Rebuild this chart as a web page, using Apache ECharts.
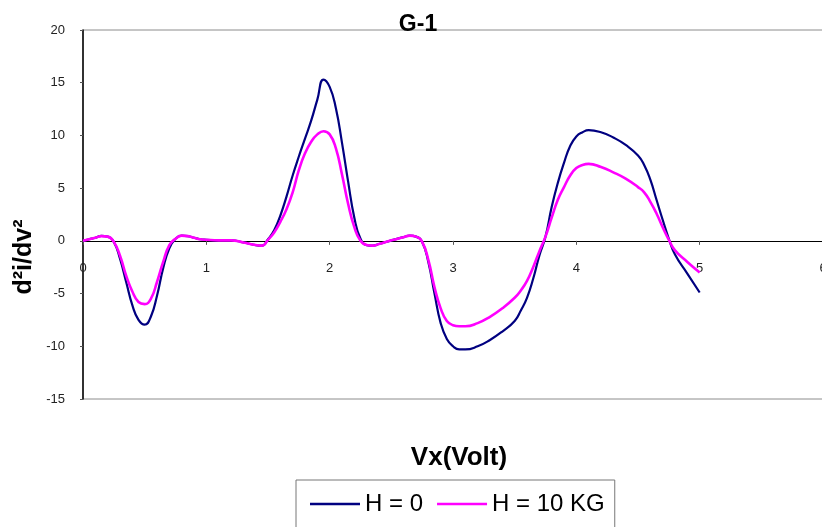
<!DOCTYPE html>
<html>
<head>
<meta charset="utf-8">
<script src="https://cdn.jsdelivr.net/npm/echarts@6/dist/echarts.min.js"></script>
<style>
  html, body { margin: 0; padding: 0; background: #fff; }
  #chart { width: 822px; height: 527px; }
</style>
</head>
<body>
<div id="chart"></div>
<script>
// values (Vx in volt, d2i/dv2)
let vx = [0, 0.05, 0.1, 0.15, 0.2, 0.25, 0.3, 0.35, 0.4, 0.45, 0.5, 0.55, 0.6, 0.65, 0.7, 0.75, 0.8, 0.85, 0.9, 0.95,
    1.0, 1.1, 1.2, 1.3, 1.4, 1.45, 1.5, 1.55, 1.6, 1.65, 1.7, 1.75, 1.8, 1.85, 1.9, 1.95,
    2.0, 2.05, 2.1, 2.15, 2.2, 2.25, 2.3, 2.35, 2.4, 2.5, 2.6, 2.65, 2.7, 2.75, 2.8, 2.85, 2.9, 2.95,
    3.0, 3.05, 3.1, 3.2, 3.3, 3.4, 3.5, 3.55, 3.6, 3.65, 3.7, 3.75, 3.8, 3.85, 3.9, 3.95,
    4.0, 4.05, 4.1, 4.2, 4.3, 4.4, 4.5, 4.55, 4.6, 4.65, 4.7, 4.75, 4.8, 4.9, 5.0];
let h0 = [0, 0.15, 0.3, 0.48, 0.4, -0.1, -1.7, -3.9, -6.1, -7.5, -7.95, -7.2, -5.2, -2.6, -0.7, 0.2, 0.5, 0.45, 0.3, 0.15,
    0.1, 0.05, 0.05, -0.15, -0.4, -0.45, 0.15, 1.0, 2.4, 4.2, 6.2, 8.0, 9.7, 11.4, 13.4, 15.3,
    14.6, 12.6, 9.3, 5.6, 2.2, 0.2, -0.4, -0.45, -0.3, 0.05, 0.35, 0.5, 0.4, -0.1, -2.0, -5.0, -7.8, -9.3,
    -10.0, -10.3, -10.3, -10.0, -9.4, -8.6, -7.6, -6.6, -5.4, -3.6, -1.4, 0.4, 3.2, 5.5, 7.4, 9.0,
    9.9, 10.3, 10.5, 10.3, 9.8, 9.1, 8.1, 7.2, 5.8, 3.9, 2.0, 0.2, -1.3, -3.1, -4.9];
let h10 = [0, 0.15, 0.3, 0.45, 0.4, -0.1, -1.4, -3.3, -4.8, -5.8, -6.0, -5.5, -3.9, -2.0, -0.4, 0.2, 0.5, 0.45, 0.3, 0.15,
    0.1, 0.05, 0.05, -0.15, -0.4, -0.45, 0.1, 0.8, 1.8, 3.0, 4.6, 6.7, 8.3, 9.4, 10.1, 10.4,
    10.1, 8.8, 6.3, 3.5, 1.3, 0.0, -0.4, -0.45, -0.3, 0.05, 0.35, 0.5, 0.4, -0.1, -1.8, -4.4, -6.4, -7.6,
    -8.0, -8.1, -8.1, -7.8, -7.2, -6.4, -5.4, -4.7, -3.8, -2.5, -1.0, 0.4, 2.2, 3.9, 5.1, 6.2,
    6.9, 7.2, 7.3, 7.0, 6.5, 5.9, 5.1, 4.6, 3.7, 2.6, 1.3, 0.1, -0.9, -2.0, -3.0];
let seriesNames = ['H = 0', 'H = 10 KG'];

var dom = document.getElementById("chart");
var myChart = echarts.init(dom);

function pairs(xs, ys) {
    return xs.map((x, i) => [x, ys[i]]);
}

var option = {
    animation: false,
    title: {
        text: 'G-1',
        left: 413,
        top: 8,
        textAlign: 'center',
        textStyle: { fontFamily: 'Arial', fontSize: 23, fontWeight: 'bold', color: '#000' }
    },
    grid: {
        left: 83,
        top: 30,
        width: 740,
        height: 369,
        outerBoundsMode: 'none',
        containLabel: false,
        show: true,
        borderColor: '#8c8c8c',
        borderWidth: 1
    },
    legend: {
        left: 296,
        top: 480,
        padding: [12, 10, 30, 14],
        borderColor: '#777',
        borderWidth: 1,
        borderRadius: 0,
        itemWidth: 50,
        itemHeight: 2.5,
        itemGap: 14,
        icon: 'rect',
        textStyle: { fontFamily: 'Arial', fontSize: 24, color: '#000' },
        data: seriesNames
    },
    // y axis title, drawn as text so it can sit a bit below the middle like the original
    graphic: [{
        type: 'text',
        x: 24,
        y: 257,
        rotation: Math.PI / 2,
        style: {
            text: 'd²i/dv²',
            fontFamily: 'Arial',
            fontSize: 25,
            fontWeight: 'bold',
            fill: '#000',
            align: 'center',
            verticalAlign: 'middle'
        }
    }],
    xAxis: {
        type: 'value',
        min: 0,
        max: 6,
        interval: 1,
        name: 'Vx(Volt)',
        nameLocation: 'middle',
        nameGap: 46,
        nameTextStyle: { fontFamily: 'Arial', fontSize: 26, fontWeight: 'bold', color: '#000', padding: [0, 0, 0, 12] },
        axisLine: { onZero: true, lineStyle: { color: '#000', width: 1 } },
        axisTick: { show: true, length: 4, lineStyle: { color: '#555' } },
        axisLabel: { margin: -137, fontFamily: 'Arial', fontSize: 13, color: '#222' },
        splitLine: { show: false }
    },
    yAxis: {
        type: 'value',
        min: -15,
        max: 20,
        interval: 5,
        axisLine: { show: true, lineStyle: { color: '#000', width: 1.5 } },
        axisTick: { show: true, length: 3, lineStyle: { color: '#555' } },
        axisLabel: { margin: 18, fontFamily: 'Arial', fontSize: 13, color: '#222' },
        splitLine: { show: false }
    },
    series: [{
        name: seriesNames[0],
        type: 'line',
        data: pairs(vx, h0),
        smooth: 0.5,
        showSymbol: false,
        lineStyle: { color: '#000080', width: 2.2 },
        itemStyle: { color: '#000080' },
        z: 2
    }, {
        name: seriesNames[1],
        type: 'line',
        data: pairs(vx, h10),
        smooth: 0.5,
        showSymbol: false,
        lineStyle: { color: '#ff00ff', width: 2.6 },
        itemStyle: { color: '#ff00ff' },
        z: 3
    }]
};

if (option && typeof option === 'object') {
    myChart.setOption(option);
}
</script>
</body>
</html>
